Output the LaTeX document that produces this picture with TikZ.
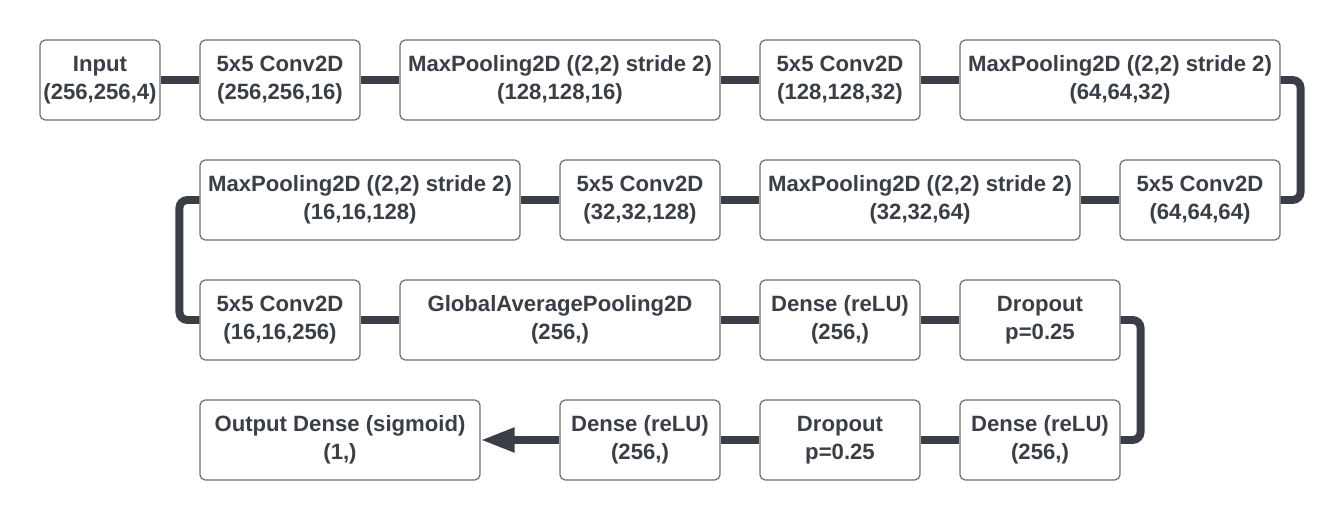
\documentclass[tikz,border=0pt]{standalone}
\usepackage{fontspec}
\setmainfont{Liberation Sans}
\usetikzlibrary{arrows.meta,positioning}
\definecolor{ink}{HTML}{3A3F47}
\definecolor{frame}{HTML}{707070}
\tikzset{
    layer/.style={
    rectangle,rounded corners=3pt,draw=frame,line width=0.7pt,fill=white,text=ink,
    minimum width=3.2cm,minimum height=1.6cm,align=center,inner sep=0pt,
    font=\fontsize{12.6}{15.9}\selectfont\bfseries
    },
    wlayer/.style={
    layer,minimum width=6.4cm
    },
    link/.style={
    draw=ink,line width=4.5pt,rounded corners=0.16cm
    },
}
\begin{document}
\begin{tikzpicture}[x=0.02cm,y=-0.02cm]
   \useasboundingbox (0,0) rectangle (1340,520);
   % row 1
   \node[layer,minimum width=2.4cm] (in) at (100,80) {Input\\(256,256,4)};
   \node[layer] (c1) at (280,80) {5x5 Conv2D\\(256,256,16)};
   \node[wlayer] (p1) at (560,80) {MaxPooling2D ((2,2) stride 2)\\(128,128,16)};
   \node[layer] (c2) at (840,80) {5x5 Conv2D\\(128,128,32)};
   \node[wlayer] (p2) at (1120,80) {MaxPooling2D ((2,2) stride 2)\\(64,64,32)};
   % row 2
   \node[layer] (c3) at (1200,200) {5x5 Conv2D\\(64,64,64)};
   \node[wlayer] (p3) at (920,200) {MaxPooling2D ((2,2) stride 2)\\(32,32,64)};
   \node[layer] (c4) at (640,200) {5x5 Conv2D\\(32,32,128)};
   \node[wlayer] (p4) at (360,200) {MaxPooling2D ((2,2) stride 2)\\(16,16,128)};
   % row 3
   \node[layer] (c5) at (280,320) {5x5 Conv2D\\(16,16,256)};
   \node[wlayer] (gap) at (560,320) {GlobalAveragePooling2D\\(256,)};
   \node[layer] (d1) at (840,320) {Dense (reLU)\\(256,)};
   \node[layer] (do1) at (1040,320) {Dropout\\p=0.25};
   % row 4
   \node[layer] (d2) at (1040,440) {Dense (reLU)\\(256,)};
   \node[layer] (do2) at (840,440) {Dropout\\p=0.25};
   \node[layer] (d3) at (640,440) {Dense (reLU)\\(256,)};
   \node[layer,minimum width=5.6cm] (out) at (340,440) {Output Dense (sigmoid)\\(1,)};

   \path[link]
     (in) -- (c1)
     (c1) -- (p1)
     (p1) -- (c2)
     (c2) -- (p2);
   \draw[link] (p2.east) -- ++(20,0) |- (c3.east);
   \path[link]
     (c3) -- (p3)
     (p3) -- (c4)
     (c4) -- (p4);
   \draw[link] (p4.west) -- ++(-20,0) |- (c5.west);
   \path[link]
     (c5) -- (gap)
     (gap) -- (d1)
     (d1) -- (do1);
   \draw[link] (do1.east) -- ++(20,0) |- (d2.east);
   \path[link]
     (d2) -- (do2)
     (do2) -- (d3);
   \draw[link,-{Triangle[length=0.68cm,width=0.46cm]}] (d3) -- (out);
\end{tikzpicture}
\end{document}
